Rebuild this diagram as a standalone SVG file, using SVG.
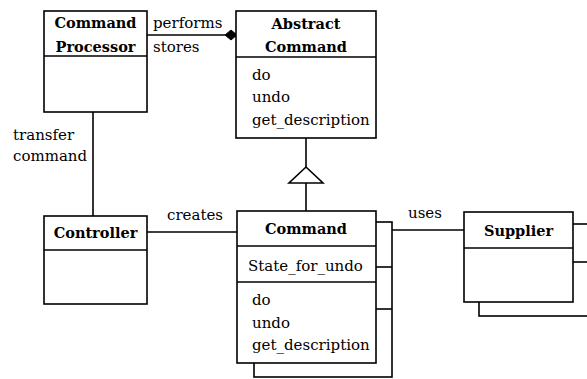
<svg xmlns="http://www.w3.org/2000/svg" width="587" height="379" viewBox="0 0 587 379">
  <style>
    .box { fill: #fff; stroke: #000; stroke-width: 1.6; }
    .ln { fill: none; stroke: #000; stroke-width: 1.6; }
    text { font-family: "DejaVu Serif", "Liberation Serif", serif; font-size: 15px; fill: #000; }
    .name { font-weight: bold; font-size: 14.5px; text-anchor: middle; }
  </style>
  <rect width="587" height="379" fill="#fff"/>

  <!-- connectors -->
  <g id="connectors">
    <!-- Command Processor performs/stores Abstract Command (aggregation) -->
    <line class="ln" x1="147" y1="35" x2="225" y2="35"/>
    <polygon points="225,35 231,30 237,35 231,40" fill="#000" stroke="#000" stroke-width="1"/>
    <text x="153" y="28">performs</text>
    <text x="153" y="52">stores</text>
    <!-- Command Processor to Controller -->
    <line class="ln" x1="93" y1="112" x2="93" y2="216"/>
    <text x="13" y="140">transfer</text>
    <text x="13" y="161">command</text>
    <!-- generalization Command -> Abstract Command -->
    <line class="ln" x1="306" y1="138" x2="306" y2="167"/>
    <polygon class="ln" points="306,167 323,183 289,183"/>
    <line class="ln" x1="306" y1="183" x2="306" y2="211"/>
    <!-- Controller creates Command -->
    <line class="ln" x1="147" y1="232" x2="237" y2="232"/>
    <text x="167" y="220">creates</text>
    <!-- Command uses Supplier -->
    <line class="ln" x1="376" y1="230" x2="464" y2="230"/>
    <text x="408" y="218">uses</text>
  </g>

  <g id="command-processor">
    <rect class="box" x="44" y="11" width="103" height="101"/>
    <line class="ln" x1="44" y1="56" x2="147" y2="56"/>
    <text class="name" x="95.5" y="28">Command</text>
    <text class="name" x="95.5" y="52">Processor</text>
  </g>

  <g id="abstract-command">
    <rect class="box" x="236" y="11" width="140" height="127"/>
    <line class="ln" x1="236" y1="57" x2="376" y2="57"/>
    <text class="name" x="306" y="29">Abstract</text>
    <text class="name" x="306" y="52">Command</text>
    <text x="252" y="80">do</text>
    <text x="252" y="102">undo</text>
    <text x="252" y="125">get_description</text>
  </g>

  <g id="controller">
    <rect class="box" x="44" y="216" width="103" height="88"/>
    <line class="ln" x1="44" y1="250" x2="147" y2="250"/>
    <text class="name" x="95.5" y="238">Controller</text>
  </g>

  <g id="command">
    <!-- stacked instances behind -->
    <rect class="box" x="254" y="222" width="138" height="155"/>
    <line class="ln" x1="376" y1="267" x2="392" y2="267"/>
    <line class="ln" x1="376" y1="309" x2="392" y2="309"/>
    <rect class="box" x="237" y="211" width="139" height="152"/>
    <line class="ln" x1="237" y1="246" x2="376" y2="246"/>
    <line class="ln" x1="237" y1="282" x2="376" y2="282"/>
    <text class="name" x="306" y="234">Command</text>
    <text x="248" y="271">State_for_undo</text>
    <text x="252" y="305">do</text>
    <text x="252" y="328">undo</text>
    <text x="252" y="350">get_description</text>
  </g>

  <g id="supplier">
    <rect class="box" x="479" y="224" width="120" height="92"/>
    <line class="ln" x1="573" y1="262" x2="590" y2="262"/>
    <rect class="box" x="464" y="212" width="109" height="90"/>
    <line class="ln" x1="464" y1="248" x2="573" y2="248"/>
    <text class="name" x="518.5" y="236">Supplier</text>
  </g>
</svg>
